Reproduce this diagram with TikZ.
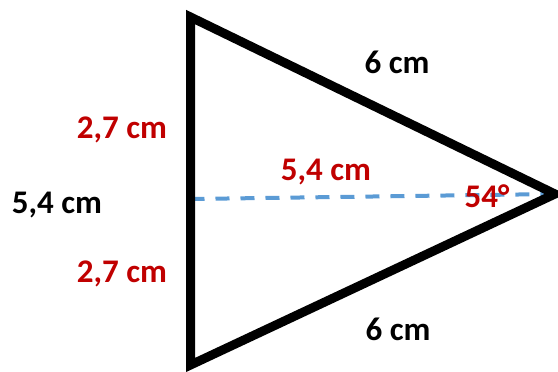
\documentclass[tikz,border=0pt]{standalone}
\usepackage{fontspec}
\setmainfont{Carlito}
\definecolor{lblred}{RGB}{192,0,0}
\definecolor{dashblue}{RGB}{91,155,213}
\begin{document}
\begin{tikzpicture}[x=1pt,y=-1pt,
  lbl/.style={font=\fontsize{33}{33}\selectfont\bfseries, inner sep=0pt, anchor=base},
  redlbl/.style={lbl, text=lblred},
  side/.style={line width=9pt, line join=miter, draw=black},
  axis/.style={line width=4pt, draw=dashblue, dash pattern=on 14pt off 11pt}]
\useasboundingbox (0,0) rectangle (558,372);
\coordinate (T) at (190.5,17);
\coordinate (R) at (555,194);
\coordinate (B) at (190.5,365);
\coordinate (M) at (190.5,199);
\draw[axis] (M) -- (R);
\draw[side] (T) -- (R) -- (B) -- cycle;
\node[lbl] (a) at (397,73) {6 cm};
\node[lbl] (b) at (398,340) {6 cm};
\node[lbl] (c) at (57,213) {5,4 cm};
\node[redlbl] (d) at (122,138) {2,7 cm};
\node[redlbl] (e) at (122,282) {2,7 cm};
\node[redlbl] (f) at (326,180) {5,4 cm};
\node[redlbl] (g) at (487,207) {54°};
\end{tikzpicture}
\end{document}
